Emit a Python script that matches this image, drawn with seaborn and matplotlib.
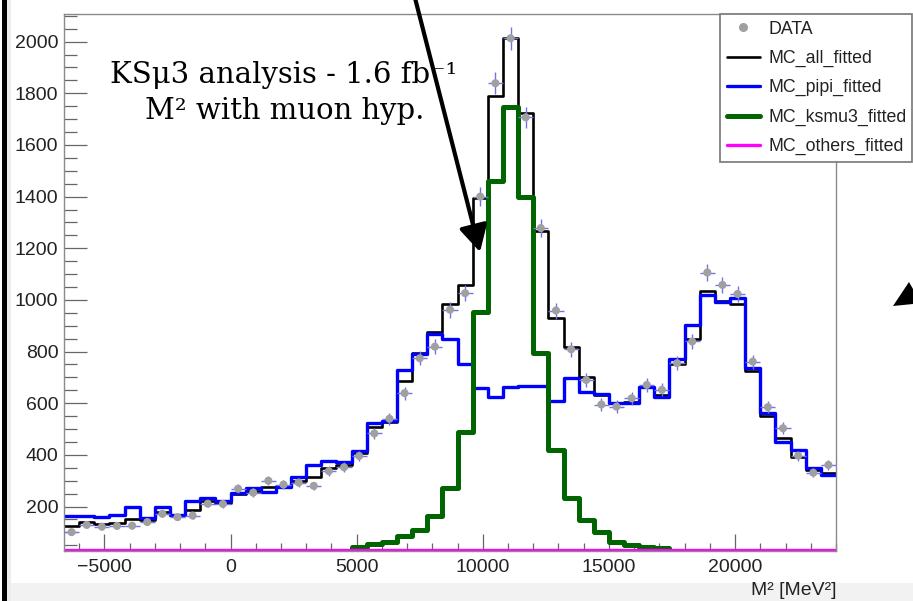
import numpy as np
import pandas as pd
import matplotlib
matplotlib.use("Agg")
import matplotlib.pyplot as plt
from matplotlib.lines import Line2D
from matplotlib.patches import Rectangle, Polygon, FancyArrowPatch
from matplotlib.ticker import MultipleLocator
import seaborn as sns

# ---------------- data (51 bins of 600 MeV^2 from -6600 to 24000) ----------------
bin_low = -6600
bin_high = 24000
bin_width = 600
n_bins = 51

data_counts = [101, 129, 122, 125, 126, 140, 172, 159, 165, 211,
               210, 269, 254, 300, 285, 293, 280, 337, 352, 396,
               483, 540, 639, 774, 819, 962, 1026, 1400, 1839, 2013,
               1707, 1278, 959, 809, 690, 595, 587, 619, 671, 652,
               755, 839, 1106, 1058, 1023, 761, 585, 503, 397, 331,
               361]

mc_all = [125, 141, 131, 138, 152, 148, 180, 166, 185, 220,
          213, 249, 262, 276, 281, 300, 316, 350, 362, 406,
          508, 527, 686, 795, 876, 984, 1058, 1395, 1790, 2016,
          1723, 1266, 929, 819, 703, 632, 602, 605, 662, 632,
          752, 848, 1036, 997, 983, 726, 552, 465, 393, 342,
          331]

mc_pipi = [164, 164, 159, 168, 199, 156, 197, 168, 222, 232,
           223, 252, 270, 255, 275, 316, 362, 377, 372, 416,
           525, 531, 727, 791, 867, 850, 750, 660, 626, 663,
           665, 667, 609, 699, 645, 634, 600, 600, 664, 626,
           770, 903, 1019, 993, 1006, 736, 561, 451, 417, 348,
           322]

mc_ksmu3 = [0, 0, 0, 0, 0, 0, 0, 0, 1, 1,
            2, 3, 4, 6, 8, 11, 14, 18, 24, 45,
            54, 62, 84, 110, 165, 272, 488, 955, 1460, 1746,
            1400, 793, 419, 232, 148, 103, 64, 51, 44, 40,
            25, 20, 16, 12, 9, 7, 5, 4, 3, 2,
            2]

mc_others = [33, 33, 33, 33, 33, 33, 33, 33, 33, 33,
             33, 33, 33, 33, 33, 33, 33, 33, 33, 33,
             33, 33, 33, 33, 33, 33, 33, 33, 33, 33,
             33, 33, 33, 33, 33, 33, 33, 33, 33, 33,
             33, 32, 32, 32, 32, 32, 32, 32, 32, 32,
             32]

legend_labels = ["DATA", "MC_all_fitted", "MC_pipi_fitted", "MC_ksmu3_fitted", "MC_others_fitted"]

centers = bin_low + bin_width * (np.arange(n_bins) + 0.5)
df = pd.DataFrame({"center": centers,
                   "data": np.asarray(data_counts, float),
                   "all": np.asarray(mc_all, float),
                   "pipi": np.asarray(mc_pipi, float),
                   "ksmu3": np.asarray(mc_ksmu3, float),
                   "others": np.asarray(mc_others, float)})

# ---------------- style ----------------
sns.set_style("white")
plt.rcParams["font.family"] = ["Liberation Sans", "DejaVu Sans"]

W, H = 913, 601
fig = plt.figure(figsize=(W / 100, H / 100), dpi=100)
fig.patch.set_facecolor("white")

# slide decorations
fig.add_artist(Rectangle((10 / W, 0), 1, 18 / H, transform=fig.transFigure,
                         facecolor="#f2f2f2", edgecolor="none", zorder=0))
fig.add_artist(Rectangle((7 / W, 0), 4 / W, 1, transform=fig.transFigure,
                         facecolor="#ececec", edgecolor="none", zorder=0))
fig.add_artist(Rectangle((1.5 / W, 0), 5.5 / W, 1, transform=fig.transFigure,
                         facecolor="black", edgecolor="none", zorder=10))

ax_l, ax_r, ax_t, ax_b = 64, 836, 14, 550.7
ax = fig.add_axes([ax_l / W, 1 - ax_b / H, (ax_r - ax_l) / W, (ax_b - ax_t) / H])
ax.set_facecolor("white")

styles = [("all", "black", 1.9), ("pipi", "#0000ff", 2.4),
          ("ksmu3", "#006400", 3.6), ("others", "#ff00ff", 2.4)]
for col, color, lw in styles:
    sns.histplot(x=df["center"].to_numpy(), weights=df[col].to_numpy(),
                 binwidth=bin_width, binrange=(bin_low, bin_high), element="step",
                 fill=False, color=color, linewidth=lw, ax=ax)

ax.errorbar(df["center"], df["data"], xerr=bin_width / 2, yerr=np.sqrt(df["data"]),
            fmt="none", ecolor="#7272ee", elinewidth=1.0, capsize=0, zorder=6)
sns.scatterplot(data=df, x="center", y="data", color="#a0a0a0", s=34,
                edgecolor="none", ax=ax, zorder=7)

ax.set_xlim(bin_low, bin_high)
ax.set_ylim(29, 2107)
ax.set_ylabel("")
ax.set_xlabel("M² [MeV²]", loc="right", fontsize=14, color="#222222")
ax.xaxis.set_label_coords(1.0, -0.059)

ax.xaxis.set_major_locator(MultipleLocator(5000))
ax.xaxis.set_minor_locator(MultipleLocator(1000))
ax.yaxis.set_major_locator(MultipleLocator(200))
ax.yaxis.set_minor_locator(MultipleLocator(50))
ax.tick_params(axis="both", which="both", direction="in", colors="#666666",
               labelcolor="#222222", labelsize=14, width=0.9,
               top=False, right=False, bottom=True, left=True)
ax.tick_params(axis="y", which="major", length=16.5, pad=4)
ax.tick_params(axis="y", which="minor", length=9.3)
ax.tick_params(axis="x", which="major", length=12, pad=6)
ax.tick_params(axis="x", which="minor", length=6)
for sp in ax.spines.values():
    sp.set_color("#8a8a8a")
    sp.set_linewidth(1.0)
    sp.set_visible(True)

# legend
handles = [Line2D([], [], marker="o", color="#a0a0a0", linestyle="none", markersize=5.5),
           Line2D([], [], color="black", lw=1.9),
           Line2D([], [], color="#0000ff", lw=2.4),
           Line2D([], [], color="#006400", lw=3.6),
           Line2D([], [], color="#ff00ff", lw=2.4)]
leg = ax.legend(handles, legend_labels, loc="upper left",
                bbox_to_anchor=(720 / W, 1 - 14 / H - 0.25, 192 / W, 0.25),
                bbox_transform=fig.transFigure, mode="expand", borderaxespad=0,
                fontsize=12.8, labelspacing=0.69, borderpad=0.37,
                handlelength=1.86, handletextpad=0.47, frameon=True,
                fancybox=False, framealpha=1, edgecolor="#777777")
leg.get_frame().set_linewidth(1.2)
for t in leg.get_texts():
    t.set_color("#222222")

# annotation text
serif = ["DejaVu Serif", "DejaVu Sans"]
fig.text(284 / W, 1 - 82.7 / H, "KSμ3 analysis - 1.6 fb⁻¹", ha="center", va="baseline",
         fontsize=21, family=serif, color="black", zorder=12)
fig.text(285 / W, 1 - 119.3 / H, "M² with muon hyp.", ha="center", va="baseline",
         fontsize=21, family=serif, color="black", zorder=12)

# arrows
arrow = FancyArrowPatch((415 / W, 1 + 2 / H), (480 / W, 1 - 252 / H),
                        transform=fig.transFigure,
                        arrowstyle="-|>,head_length=0.8,head_width=0.43",
                        mutation_scale=20, linewidth=3.0, color="black",
                        shrinkA=0, shrinkB=0, zorder=13)
fig.add_artist(arrow)
tri = Polygon([(893 / W, 1 - 306 / H), (909 / W, 1 - 282 / H),
               (913 / W, 1 - 289 / H), (913 / W, 1 - 304 / H)],
              closed=True, transform=fig.transFigure, facecolor="black",
              edgecolor="none", zorder=13)
fig.add_artist(tri)

fig.savefig("out.png", dpi=100)
